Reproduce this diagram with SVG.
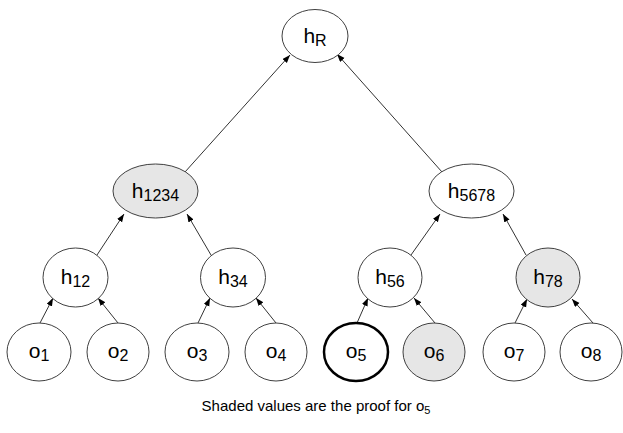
<svg xmlns="http://www.w3.org/2000/svg" width="623" height="433" viewBox="0 0 623 433">
<defs>
<marker id="arr" markerUnits="userSpaceOnUse" markerWidth="9" markerHeight="7" refX="8" refY="3" orient="auto">
<path d="M0,0 L8,3 L0,6 z" fill="#000"/>
</marker>
<style>
.n{fill:#fff;stroke:#404040;stroke-width:1}
.s{fill:#e6e6e6;stroke:#404040;stroke-width:1}
.b{fill:#fff;stroke:#000;stroke-width:2.5}
.e{stroke:#333;stroke-width:1;fill:none;marker-end:url(#arr)}
text{font-family:"Liberation Sans",Arial,sans-serif;fill:#000;text-anchor:middle}
.h{font-size:21px}
.o{font-size:21px}
.sub{font-size:16px}
.cap{font-size:15px}
.csub{font-size:11px}
</style>
</defs>
<g id="connectors">
<line class="e" x1="185" y1="172" x2="290" y2="55"/>
<line class="e" x1="442" y1="172" x2="337" y2="54"/>
<line class="e" x1="97" y1="255" x2="124" y2="214"/>
<line class="e" x1="211" y1="255" x2="187" y2="214"/>
<line class="e" x1="411" y1="255" x2="440" y2="214"/>
<line class="e" x1="526" y1="255" x2="503" y2="214"/>
<line class="e" x1="40" y1="323" x2="53" y2="298"/>
<line class="e" x1="118" y1="323" x2="98" y2="298"/>
<line class="e" x1="198" y1="323" x2="210" y2="298"/>
<line class="e" x1="276" y1="323" x2="256" y2="298"/>
<line class="e" x1="357" y1="323" x2="368" y2="298"/>
<line class="e" x1="435" y1="323" x2="414" y2="298"/>
<line class="e" x1="515" y1="323" x2="527" y2="299"/>
<line class="e" x1="593" y1="323" x2="572" y2="299"/>
</g>
<g id="hR"><ellipse class="n" cx="315" cy="36" rx="33" ry="26.5"/><text class="h" x="315" y="43">h<tspan class="sub" dy="3">R</tspan></text></g>
<g id="h1234"><ellipse class="s" cx="155.5" cy="191" rx="42.5" ry="27"/><text class="h" x="155.5" y="198">h<tspan class="sub" dy="3">1234</tspan></text></g>
<g id="h5678"><ellipse class="n" cx="471.5" cy="191" rx="42.5" ry="27"/><text class="h" x="471.5" y="198">h<tspan class="sub" dy="3">5678</tspan></text></g>
<g id="h12"><ellipse class="n" cx="75.5" cy="277.5" rx="32.5" ry="29.5"/><text class="h" x="75.5" y="284">h<tspan class="sub" dy="3">12</tspan></text></g>
<g id="h34"><ellipse class="n" cx="233" cy="277.5" rx="32.5" ry="29.5"/><text class="h" x="233" y="284">h<tspan class="sub" dy="3">34</tspan></text></g>
<g id="h56"><ellipse class="n" cx="390" cy="277.5" rx="32" ry="29.5"/><text class="h" x="390" y="284">h<tspan class="sub" dy="3">56</tspan></text></g>
<g id="h78"><ellipse class="s" cx="548" cy="277.5" rx="32" ry="29.5"/><text class="h" x="548" y="284">h<tspan class="sub" dy="3">78</tspan></text></g>
<g id="o1"><ellipse class="n" cx="39" cy="352" rx="32" ry="29"/><text class="o" x="39" y="358">o<tspan class="sub" dy="3">1</tspan></text></g>
<g id="o2"><ellipse class="n" cx="118" cy="352" rx="31" ry="29"/><text class="o" x="118" y="358">o<tspan class="sub" dy="3">2</tspan></text></g>
<g id="o3"><ellipse class="n" cx="197" cy="352" rx="32" ry="29"/><text class="o" x="197" y="358">o<tspan class="sub" dy="3">3</tspan></text></g>
<g id="o4"><ellipse class="n" cx="276" cy="352" rx="31" ry="29"/><text class="o" x="276" y="358">o<tspan class="sub" dy="3">4</tspan></text></g>
<g id="o5"><ellipse class="b" cx="356" cy="352" rx="32" ry="29"/><text class="o" x="356" y="358">o<tspan class="sub" dy="3">5</tspan></text></g>
<g id="o6"><ellipse class="s" cx="434" cy="352" rx="31" ry="29"/><text class="o" x="434" y="358">o<tspan class="sub" dy="3">6</tspan></text></g>
<g id="o7"><ellipse class="n" cx="514" cy="352" rx="31" ry="29"/><text class="o" x="514" y="358">o<tspan class="sub" dy="3">7</tspan></text></g>
<g id="o8"><ellipse class="n" cx="591" cy="352" rx="31" ry="29"/><text class="o" x="591" y="358">o<tspan class="sub" dy="3">8</tspan></text></g>
<text class="cap" x="316" y="411">Shaded values are the proof for o<tspan class="csub" dy="3">5</tspan></text>
</svg>
